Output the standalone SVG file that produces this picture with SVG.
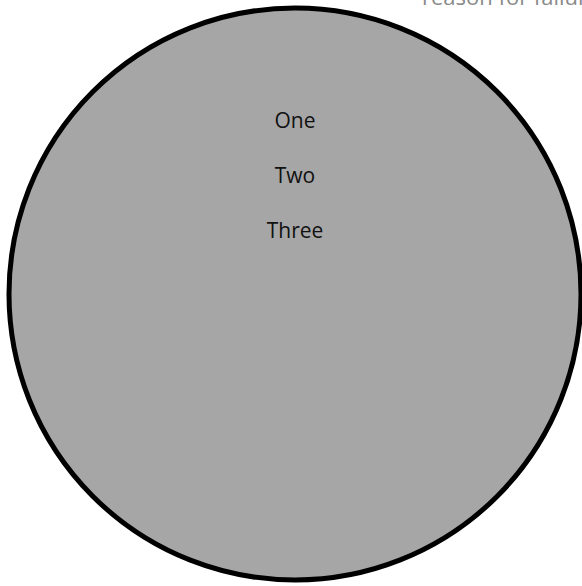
<svg xmlns="http://www.w3.org/2000/svg" width="582" height="586" viewBox="0 0 582 586">
<style>
.lbl{font-family:"Open Sans","Noto Sans",sans-serif;font-size:21px;fill:#111;text-anchor:middle}
.note{font-family:"Open Sans","Noto Sans",sans-serif;font-size:22px;fill:#8a8a8a}
</style>
<rect width="582" height="586" fill="#fff"/>
<g id="circle">
<ellipse cx="295" cy="294" rx="286" ry="286" fill="#a6a6a6" stroke="#000" stroke-width="5"/>
<text class="lbl" x="295" y="128">One</text>
<text class="lbl" x="295" y="183">Two</text>
<text class="lbl" x="295" y="238">Three</text>
</g>
<g id="note">
<text class="note" x="422" y="5">reason for failure</text>
</g>
<g id="connectors"/>
</svg>
